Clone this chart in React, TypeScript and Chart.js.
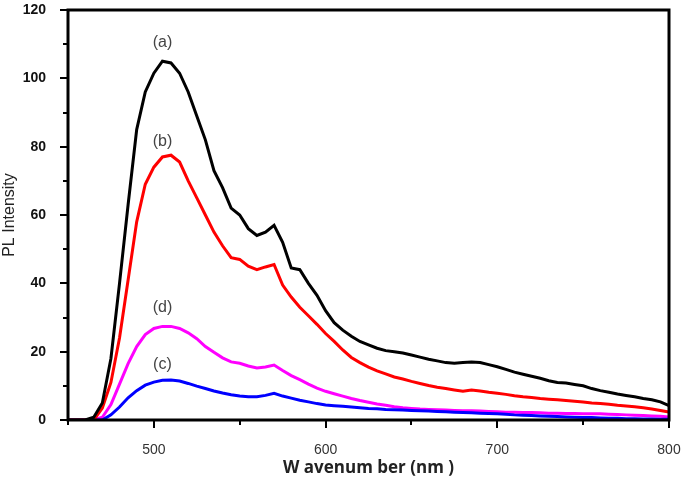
import React, { useEffect, useRef } from "react";
import { Chart, registerables } from "chart.js";

Chart.register(...registerables);

const wavelengths: number[] = [
  450, 455, 460, 465, 470, 475, 480, 485, 490, 495, 500, 505, 510, 515, 520, 525, 530, 535, 540, 545,
  550, 555, 560, 565, 570, 575, 580, 585, 590, 595, 600, 605, 610, 615, 620, 625, 630, 635, 640, 645,
  650, 655, 660, 665, 670, 675, 680, 685, 690, 695, 700, 705, 710, 715, 720, 725, 730, 735, 740, 745,
  750, 755, 760, 765, 770, 775, 780, 785, 790, 795, 800,
];

const seriesA: number[] = [
  0, 0, 0, 0.8, 5, 18, 40, 63, 85, 96, 101.5, 105, 104.5, 101.5, 96, 89, 82, 73, 68, 62,
  60, 56, 54, 55, 57, 52, 44.5, 44, 40, 36.5, 32, 28.5, 26.3, 24.5, 23, 22, 21, 20.3, 20, 19.6,
  19, 18.4, 17.8, 17.3, 16.8, 16.6, 16.8, 17, 16.8, 16.2, 15.6, 14.8, 14, 13.4, 12.8, 12.2, 11.5, 11, 10.8, 10.4,
  10, 9.2, 8.6, 8.1, 7.6, 7.2, 6.8, 6.3, 5.9, 5.3, 4.2,
];

const seriesB: number[] = [
  0, 0, 0, 0, 3.5, 11, 24, 41, 58, 69, 74, 77, 77.5, 75.5, 70, 65, 60, 55, 51, 47.5,
  47, 45, 44, 44.8, 45.5, 39.5, 36, 33, 30.5, 28, 25.3, 23, 20.5, 18.3, 16.8, 15.5, 14.4, 13.5, 12.6, 12,
  11.3, 10.7, 10.1, 9.6, 9.2, 8.8, 8.4, 8.8, 8.5, 8.1, 7.8, 7.5, 7.1, 6.8, 6.6, 6.3, 6.1, 5.9, 5.7, 5.5,
  5.3, 5, 4.8, 4.6, 4.3, 4.1, 3.9, 3.6, 3.2, 2.8, 2.3,
];

const seriesC: number[] = [
  0, 0, 0, 0, 0, 1.5, 3.8, 6.5, 8.6, 10.2, 11.1, 11.6, 11.7, 11.4, 10.7, 9.9, 9.2, 8.5, 7.9, 7.4,
  7.0, 6.8, 6.8, 7.2, 7.8, 7.0, 6.4, 5.8, 5.3, 4.8, 4.4, 4.2, 4.0, 3.8, 3.6, 3.4, 3.3, 3.1, 3.0, 2.9,
  2.8, 2.7, 2.6, 2.5, 2.4, 2.3, 2.2, 2.1, 2.0, 1.9, 1.8, 1.7, 1.5, 1.4, 1.3, 1.2, 1.1, 1.0, 0.9, 0.8,
  0.7, 0.7, 0.6, 0.5, 0.5, 0.4, 0.4, 0.3, 0.3, 0.2, 0.2,
];

const seriesD: number[] = [
  0, 0, 0, 0, 0.8, 4.5, 10.5, 16.5, 21.5, 25, 26.8, 27.4, 27.4, 26.8, 25.5, 23.8, 21.5, 19.8, 18.2, 17,
  16.6, 15.8, 15.2, 15.5, 16.1, 14.5, 13, 11.8, 10.5, 9.3, 8.4, 7.7, 7, 6.3, 5.7, 5.2, 4.7, 4.3, 3.9, 3.6,
  3.4, 3.2, 3.1, 3.0, 2.9, 2.8, 2.7, 2.7, 2.6, 2.5, 2.4, 2.3, 2.3, 2.2, 2.2, 2.1, 2.0, 2.0, 1.9, 1.9,
  1.8, 1.8, 1.8, 1.7, 1.6, 1.5, 1.4, 1.3, 1.2, 1.1, 0.9,
];

const seriesLabels = ["(a)", "(b)", "(c)", "(d)"];
const seriesColors = ["#000000", "#ff0000", "#0000ff", "#ff00ff"];
const annotations: { text: string; x: number; y: number }[] = [
  { text: "(a)", x: 505, y: 110.6 },
  { text: "(b)", x: 505, y: 81.6 },
  { text: "(d)", x: 505, y: 32.8 },
  { text: "(c)", x: 505, y: 16.1 },
];
const xTicks = [500, 600, 700, 800];
const yTicks = [0, 20, 40, 60, 80, 100, 120];

const framePlugin = {
  id: "frame",
  afterDraw(chart: any) {
    const { ctx, chartArea, scales } = chart;
    const x = scales.x;
    const y = scales.y;
    ctx.save();
    ctx.strokeStyle = "#000";
    ctx.lineWidth = 2;
    for (let v = 450; v <= 800; v += 50) {
      const px = Math.round(x.getPixelForValue(v));
      const len = v % 100 === 0 ? 8 : 5;
      ctx.beginPath();
      ctx.moveTo(px, chartArea.bottom);
      ctx.lineTo(px, chartArea.bottom + len);
      ctx.stroke();
    }
    for (let v = 0; v <= 120; v += 10) {
      const py = Math.round(y.getPixelForValue(v));
      const len = v % 20 === 0 ? 8 : 5;
      ctx.beginPath();
      ctx.moveTo(chartArea.left, py);
      ctx.lineTo(chartArea.left - len, py);
      ctx.stroke();
    }
    ctx.lineWidth = 3;
    ctx.strokeRect(chartArea.left, chartArea.top, chartArea.right - chartArea.left, chartArea.bottom - chartArea.top);
    ctx.fillStyle = "#444";
    ctx.font = "16px 'Liberation Sans', Arial, sans-serif";
    ctx.textAlign = "center";
    ctx.textBaseline = "middle";
    for (const a of annotations) {
      ctx.fillText(a.text, x.getPixelForValue(a.x), y.getPixelForValue(a.y));
    }
    ctx.restore();
  },
};

const zeroPad = (s: any) => {
  s.paddingTop = 0;
  s.paddingBottom = 0;
  s.paddingLeft = 0;
  s.paddingRight = 0;
};

export default function App() {
  const ref = useRef<HTMLCanvasElement>(null);
  useEffect(() => {
    document.body.style.margin = "0";
    const canvas = ref.current;
    if (!canvas) return;
    const data = [seriesA, seriesB, seriesC, seriesD];
    const chart = new Chart(canvas, {
      type: "line",
      data: {
        datasets: data.map((s, i) => ({
          label: seriesLabels[i],
          data: wavelengths.map((w, j) => ({ x: w, y: s[j] })),
          borderColor: seriesColors[i],
          backgroundColor: seriesColors[i],
          borderWidth: 3,
          pointRadius: 0,
          tension: 0,
        })),
      },
      options: {
        responsive: false,
        animation: false,
        layout: { padding: { top: 10, right: 16, left: 0, bottom: 0 } },
        plugins: { legend: { display: false }, tooltip: { enabled: false } },
        scales: {
          x: {
            type: "linear",
            min: 450,
            max: 800,
            border: { display: false },
            grid: { display: false },
            afterBuildTicks: (s: any) => {
              s.ticks = xTicks.map((v) => ({ value: v }));
            },
            ticks: {
              color: "#333",
              font: { size: 14, family: "'Liberation Sans', Arial, sans-serif" },
              padding: 14,
              maxRotation: 0,
            },
            title: {
              display: true,
              text: "W avenum ber (nm )",
              color: "#222",
              font: { size: 17, weight: "bold", family: "'Open Sans', sans-serif" },
              padding: { top: 2, bottom: 0 },
            },
            afterFit: (s: any) => {
              s.height = 58;
              zeroPad(s);
            },
          },
          y: {
            type: "linear",
            min: 0,
            max: 120,
            border: { display: false },
            grid: { display: false },
            afterBuildTicks: (s: any) => {
              s.ticks = yTicks.map((v) => ({ value: v }));
            },
            ticks: {
              color: "#111",
              font: { size: 14, weight: "bold", family: "'Liberation Sans', Arial, sans-serif" },
              padding: 14,
            },
            title: {
              display: true,
              text: "PL Intensity",
              color: "#222",
              font: { size: 16, family: "'Liberation Sans', Arial, sans-serif" },
              padding: { top: 0, bottom: 0 },
            },
            afterFit: (s: any) => {
              s.width = 68;
              zeroPad(s);
            },
          },
        },
      },
      plugins: [framePlugin],
    } as any);
    return () => chart.destroy();
  }, []);
  return (
    <div style={{ width: 685, height: 478 }}>
      <canvas ref={ref} width={685} height={478} />
    </div>
  );
}
